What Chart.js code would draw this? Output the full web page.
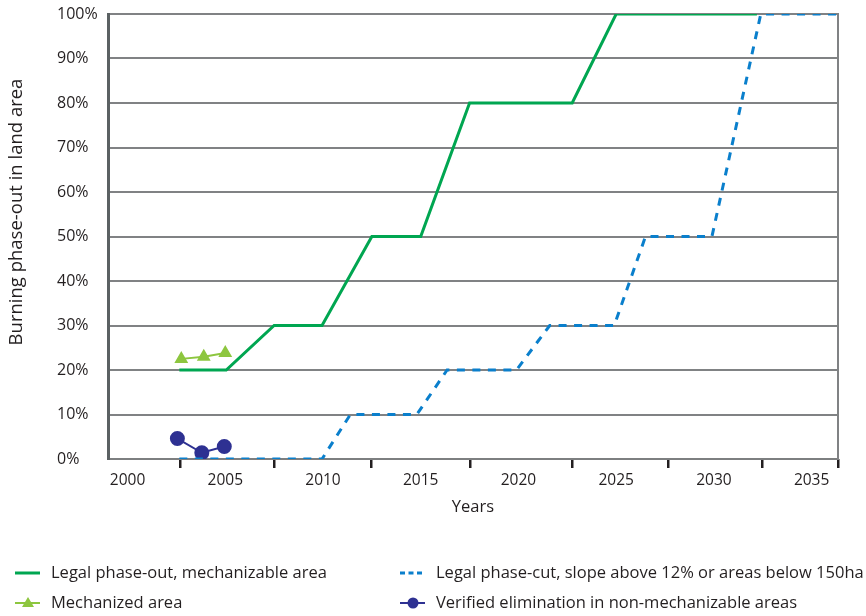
<!DOCTYPE html>
<html>
<head>
<meta charset="utf-8">
<script src="https://cdn.jsdelivr.net/npm/chart.js@4/dist/chart.umd.min.js"></script>
<style>
  html, body { margin: 0; padding: 0; background: #fff; }
  #wrap { width: 866px; height: 616px; }
</style>
</head>
<body>
<div id="wrap"><canvas id="phaseChart" width="866" height="616"></canvas></div>
<script>
// values (x in years, y in % of land area)
const legalYears = [2002.65, 2005.05, 2007.5, 2009.95, 2012.5, 2015.0, 2017.5, 2022.75, 2025.0, 2032.2];
const legalValues = [20, 20, 30, 30, 50, 50, 80, 80, 100, 100];

const slopeYears = [2002.65, 2009.95, 2011.4, 2014.8, 2016.35, 2019.9, 2021.6, 2024.9, 2026.5, 2029.9, 2032.4, 2036.35];
const slopeValues = [0, 0, 10, 10, 20, 20, 30, 30, 50, 50, 100, 100];

const mechYears = [2002.75, 2003.9, 2005.0];
const mechValues = [22.5, 23, 23.8];

const verifiedYears = [2002.55, 2003.8, 2004.95];
const verifiedValues = [4.6, 1.4, 2.8];

const xTickLabels = [2000, 2005, 2010, 2015, 2020, 2025, 2030, 2035];
const xTickMarks = [2002.68, 2007.49, 2012.45, 2017.51, 2022.77, 2027.68, 2032.49, 2036.35];
const yTickLabels = [0, 10, 20, 30, 40, 50, 60, 70, 80, 90, 100];

const yTitle = 'Burning phase-out in land area';
const xTitle = 'Years';

const FONT = '"Open Sans", "DejaVu Sans", sans-serif';
const TEXT = '#231f20';

function pts(xs, ys) {
  return xs.map((x, i) => ({ x: x, y: ys[i] }));
}

// draws the y title and the two-column legend under the chart
const sideText = {
  id: 'sideText',
  afterDraw(chart) {
    const ctx = chart.ctx;
    ctx.save();
    ctx.fillStyle = TEXT;
    ctx.font = '18.5px ' + FONT;
    ctx.textAlign = 'center';
    ctx.textBaseline = 'middle';
    ctx.translate(17, 212);
    ctx.rotate(-Math.PI / 2);
    ctx.fillText(yTitle, 0, 0);
    ctx.restore();

    const slots = [[15, 573], [400, 573], [15, 603], [400, 603]];
    chart.data.datasets.forEach((ds, i) => {
      const [x, y] = slots[i];
      ctx.save();
      ctx.strokeStyle = ds.borderColor;
      ctx.lineWidth = ds.borderWidth;
      if (ds.borderDash) ctx.setLineDash([5, 3.5]);
      ctx.beginPath();
      ctx.moveTo(x, y);
      ctx.lineTo(x + 25, y);
      ctx.stroke();
      ctx.setLineDash([]);
      if (ds.pointRadius > 0) {
        ctx.fillStyle = ds.pointBackgroundColor;
        const cx = x + 13;
        ctx.beginPath();
        if (ds.pointStyle === 'triangle') {
          ctx.moveTo(cx, y - 6);
          ctx.lineTo(cx + 6, y + 4);
          ctx.lineTo(cx - 6, y + 4);
          ctx.closePath();
        } else {
          ctx.arc(cx, y, 5.5, 0, Math.PI * 2);
        }
        ctx.fill();
      }
      ctx.fillStyle = TEXT;
      ctx.font = '16.5px ' + FONT;
      ctx.textAlign = 'left';
      ctx.textBaseline = 'middle';
      ctx.fillText(ds.label, x + 36, y);
      ctx.restore();
    });
  }
};

const ctx = document.getElementById('phaseChart').getContext('2d');
const chart = new Chart(ctx, {
  type: 'line',
  data: {
    datasets: [
      {
        label: 'Legal phase-out, mechanizable area',
        data: pts(legalYears, legalValues),
        borderColor: '#00a651',
        borderWidth: 3,
        pointRadius: 0,
        tension: 0
      },
      {
        label: 'Legal phase-cut, slope above 12% or areas below 150ha',
        data: pts(slopeYears, slopeValues),
        borderColor: '#0a7fcc',
        borderWidth: 3,
        borderDash: [8, 7.5],
        pointRadius: 0,
        tension: 0
      },
      {
        label: 'Mechanized area',
        data: pts(mechYears, mechValues),
        borderColor: '#8dc63f',
        borderWidth: 2,
        pointStyle: 'triangle',
        pointRadius: 6,
        pointBackgroundColor: '#8dc63f',
        pointBorderColor: '#8dc63f',
        tension: 0
      },
      {
        label: 'Verified elimination in non-mechanizable areas',
        data: pts(verifiedYears, verifiedValues),
        borderColor: '#2e3192',
        borderWidth: 2,
        pointStyle: 'circle',
        pointRadius: 6.5,
        pointBackgroundColor: '#2e3192',
        pointBorderColor: '#2e3192',
        tension: 0
      }
    ]
  },
  options: {
    responsive: false,
    animation: false,
    devicePixelRatio: 1,
    layout: { padding: { top: 14, right: 28, bottom: 96, left: 57 } },
    plugins: {
      legend: { display: false },
      tooltip: { enabled: false }
    },
    scales: {
      x: {
        type: 'linear',
        position: 'bottom',
        weight: 1,
        min: 1999,
        max: 2036.35,
        afterBuildTicks: (s) => { s.ticks = xTickLabels.map(v => ({ value: v })); },
        afterFit: (s) => { s.height = 61; },
        grid: { display: false, drawTicks: false },
        border: { display: true, color: '#7d7f80', width: 2 },
        ticks: {
          color: TEXT,
          font: { family: FONT, size: 15.5 },
          padding: 12,
          autoSkip: false,
          maxRotation: 0,
          callback: (v) => String(v)
        },
        title: {
          display: true,
          text: xTitle,
          color: TEXT,
          font: { family: FONT, size: 16.5 },
          padding: { top: 0, bottom: 3 }
        }
      },
      xMarks: {
        type: 'linear',
        position: 'bottom',
        weight: 0,
        min: 1999,
        max: 2036.35,
        afterBuildTicks: (s) => { s.ticks = xTickMarks.map(v => ({ value: v })); },
        afterFit: (s) => { s.height = 0; },
        grid: { display: true, drawOnChartArea: false, drawTicks: true, tickLength: 9, color: '#231f20', lineWidth: 2.5 },
        border: { display: false },
        ticks: { display: false }
      },
      y: {
        position: 'left',
        min: 0,
        max: 100,
        afterBuildTicks: (s) => { s.ticks = yTickLabels.map(v => ({ value: v })); },
        afterFit: (s) => { s.width = 51; },
        grid: { color: '#808284', lineWidth: 2, drawTicks: false },
        border: { display: true, color: '#5b6163', width: 3 },
        ticks: {
          crossAlign: 'far',
          color: TEXT,
          font: { family: FONT, size: 16 },
          callback: (v) => v + '%'
        }
      },
      yRight: {
        position: 'right',
        min: 0,
        max: 100,
        afterFit: (s) => { s.width = 0; },
        grid: { display: false },
        border: { display: true, color: '#808284', width: 2 },
        ticks: { display: false }
      }
    }
  },
  plugins: [sideText]
});
</script>
</body>
</html>
